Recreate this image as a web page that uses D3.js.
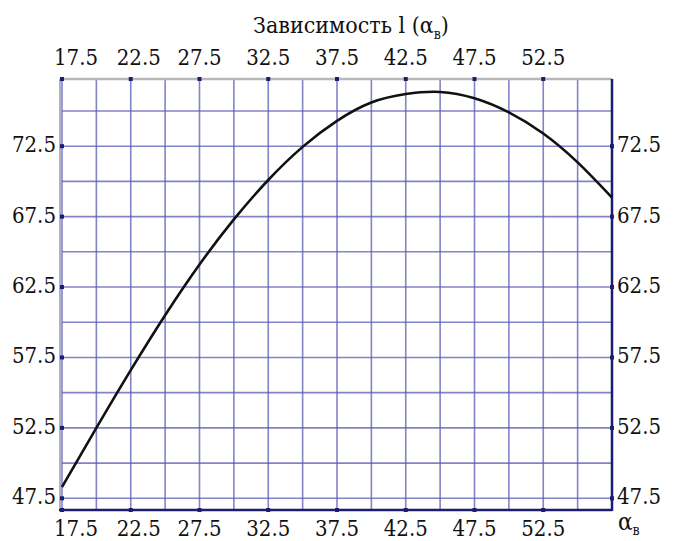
<!DOCTYPE html>
<html>
<head>
<meta charset="utf-8">
<script src="https://cdn.jsdelivr.net/npm/d3@7"></script>
<style>
  body { margin: 0; background: #fff; }
  svg { display: block; }
  svg text { font-family: 'DejaVu Serif Condensed', 'DejaVu Serif', serif; font-stretch: condensed; }
</style>
</head>
<body>
<svg width="673" height="541"></svg>
<script>
// values
const alpha = [17.5, 20, 22.5, 25, 27.5, 30, 32.5, 35, 37.5, 40, 42.5, 45, 47.5, 50, 52.5, 55, 57.5];
const lValues = [48.3, 52.5, 56.6, 60.5, 64.1, 67.3, 70.1, 72.45, 74.3, 75.6, 76.2, 76.35, 75.9, 74.9, 73.4, 71.35, 68.85];

const xTickLabels = [17.5, 22.5, 27.5, 32.5, 37.5, 42.5, 47.5, 52.5];
const yTickLabels = [47.5, 52.5, 57.5, 62.5, 67.5, 72.5];
const xDomain = [17.5, 57.5];
const yDomain = [46.67, 77.27];

const svg = d3.select("svg");
const margin = { top: 79, right: 61, bottom: 31, left: 62 };
const width = +svg.attr("width") - margin.left - margin.right;
const height = +svg.attr("height") - margin.top - margin.bottom;

const g = svg.append("g").attr("transform", `translate(${margin.left},${margin.top})`);

const x = d3.scaleLinear().domain(xDomain).range([0, width]);
const y = d3.scaleLinear().domain(yDomain).range([height, 0]);

const gridColor = "#5a5ab4";

// grid every 2.5
const xGrid = d3.range(xDomain[0], xDomain[1] + 0.01, 2.5);
const yGrid = d3.range(47.5, yDomain[1], 2.5);

g.append("g")
    .selectAll("line")
    .data(xGrid)
    .join("line")
    .attr("x1", d => x(d))
    .attr("x2", d => x(d))
    .attr("y1", 0)
    .attr("y2", height)
    .attr("stroke", gridColor)
    .attr("stroke-opacity", 0.75)
    .attr("stroke-width", 1.6);

g.append("g")
    .selectAll("line")
    .data(yGrid)
    .join("line")
    .attr("x1", 0)
    .attr("x2", width)
    .attr("y1", d => y(d))
    .attr("y2", d => y(d))
    .attr("stroke", gridColor)
    .attr("stroke-opacity", 0.75)
    .attr("stroke-width", 1.6);

// frame: light top/left, dark right/bottom
g.append("line").attr("x1", 0).attr("x2", width).attr("y1", 0).attr("y2", 0)
    .attr("stroke", "#b8b8b8").attr("stroke-width", 2.5);
g.append("line").attr("x1", -2).attr("x2", -2).attr("y1", 0).attr("y2", height)
    .attr("stroke", "#b0b0c8").attr("stroke-width", 2);
g.append("line").attr("x1", width).attr("x2", width).attr("y1", 0).attr("y2", height + 1)
    .attr("stroke", "#1c1c70").attr("stroke-width", 2.5);
g.append("line").attr("x1", -3).attr("x2", width).attr("y1", height).attr("y2", height)
    .attr("stroke", "#1c1c70").attr("stroke-width", 2.5);

// tick dots
const dotColor = "#1c1c70";
[0, height].forEach(yy => {
    g.append("g").selectAll("rect")
        .data(xTickLabels)
        .join("rect")
        .attr("x", d => x(d) - 2)
        .attr("y", yy - 2)
        .attr("width", 4)
        .attr("height", 4)
        .attr("fill", dotColor);
});
[0, width].forEach(xx => {
    g.append("g").selectAll("rect")
        .data(yTickLabels)
        .join("rect")
        .attr("x", xx - 2)
        .attr("y", d => y(d) - 2)
        .attr("width", 4)
        .attr("height", 4)
        .attr("fill", dotColor);
});

// curve
const line = d3.line()
    .x((d, i) => x(alpha[i]))
    .y(d => y(d))
    .curve(d3.curveNatural);

g.append("path")
    .datum(lValues)
    .attr("d", line)
    .attr("fill", "none")
    .attr("stroke", "#111")
    .attr("stroke-width", 2.6);

// tick labels (first two pushed right, as in the original)
const fontSize = 22;
function xLabels(baseline) {
    g.append("g").selectAll("text")
        .data(xTickLabels)
        .join("text")
        .attr("x", (d, i) => i === 0 ? x(d) - 8 : i === 1 ? x(d) + 8 : x(d))
        .attr("y", baseline)
        .attr("text-anchor", (d, i) => i === 0 ? "start" : "middle")
        .attr("font-size", fontSize)
        .attr("fill", "#111")
        .text(d => d.toFixed(1));
}
xLabels(-14);
xLabels(height + 26);

g.append("g").selectAll("text")
    .data(yTickLabels)
    .join("text")
    .attr("x", -6)
    .attr("y", d => y(d) + 6)
    .attr("text-anchor", "end")
    .attr("font-size", fontSize)
    .attr("fill", "#111")
    .text(d => d.toFixed(1));

g.append("g").selectAll("text")
    .data(yTickLabels)
    .join("text")
    .attr("x", width + 5)
    .attr("y", d => y(d) + 6)
    .attr("text-anchor", "start")
    .attr("font-size", fontSize)
    .attr("fill", "#111")
    .text(d => d.toFixed(1));

// axis name at bottom right
const axName = g.append("text")
    .attr("x", width + 6)
    .attr("y", height + 20)
    .attr("font-size", 24)
    .attr("fill", "#111");
axName.append("tspan").text("α");
axName.append("tspan").attr("font-size", 14).attr("dy", 5).text("в");

// title
const title = svg.append("text")
    .attr("x", 351)
    .attr("y", 33)
    .attr("text-anchor", "middle")
    .attr("font-size", 23)
    .attr("fill", "#111");
title.append("tspan").text("Зависимость l (α");
title.append("tspan").attr("font-size", 14).attr("dy", 6).text("в");
title.append("tspan").attr("dy", -6).text(")");
</script>
</body>
</html>
